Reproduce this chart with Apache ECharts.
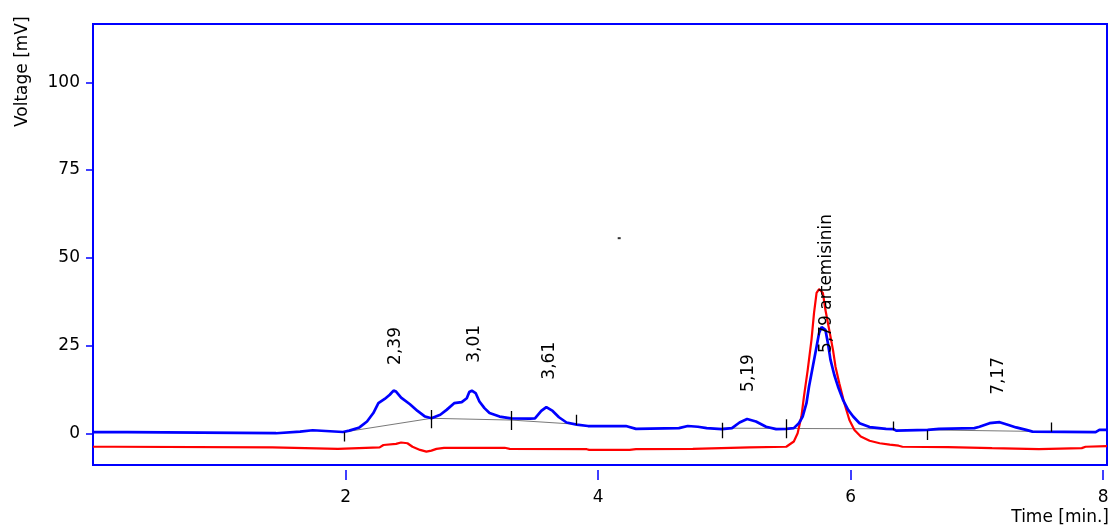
<!DOCTYPE html>
<html>
<head>
<meta charset="utf-8">
<script src="https://cdn.jsdelivr.net/npm/echarts@6/dist/echarts.min.js"></script>
<style>html,body{margin:0;padding:0;background:#fff}#c{width:1114px;height:532px}</style>
</head>
<body>
<div id="c"></div>
<script>
// ---- data ----
const blueTrace = [
[0.00,0.35],[0.27,0.35],[0.28,0.05],[1.45,0.05],[1.46,0.5],[1.64,0.5],[1.65,0.9],[1.74,0.9],[1.75,0.5],
[1.98,0.4],[2.03,0.8],[2.11,1.7],[2.17,3.4],[2.22,5.8],[2.26,8.6],[2.31,9.8],[2.35,11.0],[2.38,12.2],
[2.40,11.9],[2.44,10.2],[2.51,8.3],[2.57,6.4],[2.63,4.8],[2.68,4.3],[2.75,5.3],[2.80,6.7],[2.86,8.6],
[2.92,8.9],[2.96,10.0],[2.98,11.8],[3.00,12.2],[3.03,11.5],[3.06,9.1],[3.10,7.2],[3.14,5.8],[3.22,4.8],
[3.31,4.3],[3.46,4.2],[3.50,4.3],[3.55,6.4],[3.59,7.5],[3.64,6.4],[3.69,4.6],[3.75,3.1],[3.83,2.5],
[3.92,2.1],[4.22,2.1],[4.30,1.3],[4.64,1.5],[4.71,2.1],[4.79,1.9],[4.86,1.5],[4.98,1.2],[5.06,1.5],
[5.12,3.1],[5.18,4.1],[5.25,3.4],[5.33,1.9],[5.41,1.2],[5.49,1.3],[5.55,1.5],[5.59,2.9],[5.62,4.8],
[5.65,8.6],[5.67,13.3],[5.70,19.0],[5.73,24.7],[5.75,28.6],[5.77,30.3],[5.80,29.5],[5.82,25.7],
[5.84,21.0],[5.87,16.7],[5.90,13.3],[5.94,9.5],[5.98,6.7],[6.02,4.8],[6.07,2.9],[6.15,1.8],[6.28,1.3],
[6.34,1.2],[6.36,0.8],[6.61,1.0],[6.70,1.3],[6.98,1.5],[7.02,1.9],[7.10,2.9],[7.18,3.2],[7.25,2.4],
[7.31,1.7],[7.39,1.0],[7.44,0.5],[7.94,0.35],[7.97,1.0],[8.03,1.0]
];
const redTrace = [
[0.00,-3.8],[0.17,-3.8],[0.18,-4.0],[1.42,-4.0],[1.43,-4.4],[1.94,-4.4],[1.95,-4.0],[2.27,-4.0],
[2.30,-3.3],[2.40,-3.0],[2.44,-2.6],[2.49,-2.8],[2.53,-3.8],[2.59,-4.7],[2.64,-5.2],[2.68,-4.9],
[2.72,-4.4],[2.78,-4.1],[3.26,-4.1],[3.30,-4.4],[3.91,-4.5],[3.93,-4.7],[4.25,-4.7],[4.30,-4.5],
[4.75,-4.4],[5.20,-4.0],[5.49,-3.8],[5.51,-3.3],[5.55,-2.3],[5.58,0.05],[5.61,4.8],[5.63,10.5],
[5.66,18.1],[5.69,26.7],[5.71,34.3],[5.73,40.0],[5.75,41.1],[5.78,40.0],[5.80,35.2],[5.83,29.5],
[5.86,23.8],[5.88,19.0],[5.91,14.3],[5.95,8.6],[5.99,3.8],[6.03,1.0],[6.08,-0.9],[6.15,-2.1],
[6.23,-2.8],[6.31,-3.2],[6.38,-3.5],[6.41,-3.8],[6.77,-3.9],[7.12,-4.2],[7.49,-4.5],[7.83,-4.2],
[7.86,-3.8],[8.03,-3.6]
];
// integration baselines (polylines)
const baselines = [
[[1.99,0.4],[2.68,4.3],[3.31,3.8],[3.83,2.6]],
[[4.98,1.5],[5.49,1.4],[6.34,1.3]],
[[6.61,1.0],[7.59,0.5]]
];
// peak start/end markers: [time, yTop, yBottom]
const peakMarks = [
[1.99,0.34,-2.3],[2.68,6.7,1.5],[3.31,6.4,1.0],[3.83,5.3,2.4],[4.98,3.0,-1.4],
[5.49,4.0,-1.4],[6.34,3.4,0.9],[6.61,0.8,-1.85],[7.59,3.1,0.5]
];
// peak labels: [time, value at label start, text]
const peakLabels = [
[2.40,19.5,'2,39'],[3.02,20.1,'3,01'],[3.616,15.3,'3,61'],[5.19,11.8,'5,19'],
[5.807,22.9,'5,79 artemisinin'],[7.168,11.0,'7,17']
];
const strayDot = [[4.167,55.6]];
const xTicks = [2,4,6,8];
const yTicks = [0,25,50,75,100];

const FONT = 'DejaVu Sans';
const chart = echarts.init(document.getElementById('c'), null, {renderer:'canvas'});
chart.setOption({
  animation:false,
  backgroundColor:'#fff',
  grid:{left:93,top:24,width:1014,height:441,show:true,borderColor:'#0000FF',borderWidth:2,backgroundColor:'transparent'},
  xAxis:{type:'value',min:0,max:8.03,offset:5,
    axisLine:{show:false,onZero:false},
    axisTick:{show:true,length:10,lineStyle:{color:'#0000FF',width:1.5},customValues:xTicks},
    axisLabel:{color:'#000',fontSize:17,fontFamily:FONT,margin:19,customValues:xTicks},
    splitLine:{show:false}},
  yAxis:{type:'value',min:-9,max:116.6,
    axisLine:{show:false,onZero:false},
    axisTick:{show:true,length:7,lineStyle:{color:'#0000FF',width:1.5},customValues:yTicks},
    axisLabel:{color:'#000',fontSize:17,fontFamily:FONT,margin:13,customValues:yTicks},
    splitLine:{show:false}},
  graphic:[
    {type:'text',x:14,y:127,rotation:Math.PI/2,style:{text:'Voltage [mV]',font:'17px "DejaVu Sans"',fill:'#000'}},
    {type:'text',right:5,top:509,style:{text:'Time [min.]',font:'17px "DejaVu Sans"',fill:'#000'}}
  ],
  series:[
    {type:'lines',coordinateSystem:'cartesian2d',polyline:true,silent:true,z:1,
      lineStyle:{color:'#555',width:0.8,opacity:1},
      data:baselines.map(c=>({coords:c}))},
    {type:'line',data:redTrace,showSymbol:false,symbol:'none',z:2,
      lineStyle:{color:'#FF0000',width:2.2},clip:true},
    {type:'line',data:blueTrace,showSymbol:false,symbol:'none',z:3,
      lineStyle:{color:'#0000FF',width:2.7},clip:true},
    {type:'lines',coordinateSystem:'cartesian2d',silent:true,z:4,
      lineStyle:{color:'#000',width:1.3,opacity:1},
      data:peakMarks.map(m=>({coords:[[m[0],m[1]],[m[0],m[2]]]}))},
    {type:'scatter',data:peakLabels,symbolSize:0.1,itemStyle:{color:'transparent'},z:5,silent:true,
      label:{show:true,position:[0,0],rotate:90,align:'left',verticalAlign:'middle',
        color:'#000',opacity:1,textBorderWidth:0,textBorderColor:'transparent',
        fontSize:17,fontFamily:FONT,formatter:p=>p.data[2]}},
    {type:'scatter',data:strayDot,symbol:'rect',symbolSize:[3,2],itemStyle:{color:'#000'},z:5,silent:true}
  ]
});
</script>
</body>
</html>
